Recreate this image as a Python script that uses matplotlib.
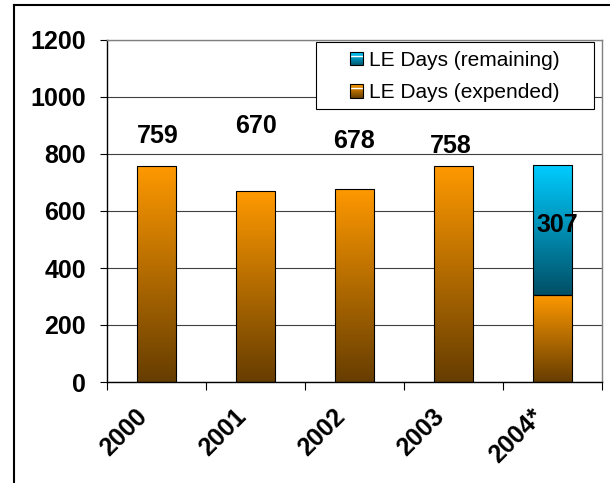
import matplotlib
matplotlib.use('Agg')
import matplotlib.pyplot as plt
import numpy as np
from matplotlib.patches import Rectangle
from matplotlib.legend_handler import HandlerBase
from matplotlib.colors import to_rgb
from matplotlib.lines import Line2D
from matplotlib.transforms import ScaledTranslation

# ---- data ----
years = ['2000', '2001', '2002', '2003', '2004*']
expended = [759, 670, 678, 758, 307]
remaining = [0, 0, 0, 0, 453]
label_text = ['759', '670', '678', '758', '307']
yticks = [0, 200, 400, 600, 800, 1000, 1200]

# label layout (baseline heights in data units, x shifts in category units)
label_base = [838, 874, 821, 804, 526]
label_dx = [0.015, 0.0, 0.0, -0.03, 0.045]

plt.rcParams['font.family'] = ['Liberation Sans', 'DejaVu Sans']

W, H = 610, 483
fig = plt.figure(figsize=(W / 100, H / 100), dpi=100)
ax = fig.add_axes([107 / W, 1 - 382 / H, 495 / W, 342 / H])

ORANGE_TOP = np.array(to_rgb('#FF9900'))
ORANGE_BOT = np.array(to_rgb('#663D00'))
CYAN_TOP = np.array(to_rgb('#00CCFF'))
CYAN_BOT = np.array(to_rgb('#004F66'))

x = np.arange(len(years))
b1 = ax.bar(x, expended, width=0.4, facecolor='none', edgecolor='black',
            lw=0.8, zorder=3)
b2 = ax.bar(x, remaining, bottom=expended, width=0.4, facecolor='none',
            edgecolor='black', lw=0.8, zorder=3)


def fill_gradient(patch, top, bottom):
    x0, y0 = patch.get_x(), patch.get_y()
    w, h = patch.get_width(), patch.get_height()
    if h <= 0:
        patch.set_visible(False)
        return
    t = np.linspace(0, 1, 256)[:, None]
    c = bottom[None, :] + (top - bottom)[None, :] * t
    img = c[:, None, :]
    im = ax.imshow(img, extent=[x0, x0 + w, y0, y0 + h], origin='lower',
                   aspect='auto', zorder=2.5, interpolation='bilinear')
    im.set_clip_path(patch)


for p in b1.patches:
    fill_gradient(p, ORANGE_TOP, ORANGE_BOT)
for p in b2.patches:
    fill_gradient(p, CYAN_TOP, CYAN_BOT)

for i, t in enumerate(label_text):
    ax.text(x[i] + label_dx[i], label_base[i], t, ha='center', va='baseline',
            fontsize=18, fontweight='bold', color='black', zorder=6)

ax.set_xlim(-0.5, len(years) - 0.5)
ax.set_ylim(0, 1200)
ax.set_yticks(yticks)
ax.set_yticklabels([str(v) for v in yticks])
ax.yaxis.grid(True, color='#404040', lw=0.8, zorder=1)
ax.set_axisbelow(True)

ax.set_xticks(x)
ax.set_xticklabels(years)
ax.set_xticks(np.arange(-0.5, len(years)), minor=True)
ax.tick_params(axis='x', which='major', length=0, pad=22, labelsize=18)
ax.tick_params(axis='x', which='minor', length=6, width=0.8, direction='out')
ax.tick_params(axis='y', length=5, width=0.8, direction='out', pad=10,
               labelsize=18)
for lab in ax.get_yticklabels():
    lab.set_fontweight('bold')
for lab in ax.get_xticklabels():
    lab.set_fontweight('bold')
    lab.set_rotation(45)
    lab.set_ha('right')
    lab.set_va('center')
    lab.set_rotation_mode('anchor')
    lab.set_transform(lab.get_transform() +
                      ScaledTranslation(-13 / 100, 0, fig.dpi_scale_trans))

for s in ['left', 'bottom']:
    ax.spines[s].set_color('black')
    ax.spines[s].set_linewidth(1.0)
for s in ['top', 'right']:
    ax.spines[s].set_color('#808080')
    ax.spines[s].set_linewidth(1.0)


class GradHandler(HandlerBase):
    def __init__(self, top, bottom):
        super().__init__()
        self.top = top
        self.bottom = bottom

    def create_artists(self, legend, orig_handle, xdescent, ydescent, width,
                       height, fontsize, trans):
        arts = []
        n = 14
        x0, y0 = -xdescent, -ydescent
        for i in range(n):
            f = (i + 0.5) / n
            col = self.bottom + (self.top - self.bottom) * f
            arts.append(Rectangle((x0, y0 + height * i / n), width,
                                  height / n, facecolor=col,
                                  edgecolor='none', transform=trans))
        yl = y0 + height * 0.7
        arts.append(Line2D([x0, x0 + width], [yl, yl], color='white', lw=1.0,
                           transform=trans))
        arts.append(Rectangle((x0, y0), width, height, facecolor='none',
                              edgecolor='black', lw=0.8, transform=trans))
        return arts


h_rem = Rectangle((0, 0), 1, 1)
h_exp = Rectangle((0, 0), 1, 1)

# legend frame
frame = Rectangle((316 / W, 1 - 109 / H), 278 / W, 67 / H,
                  transform=fig.transFigure, facecolor='white',
                  edgecolor='black', lw=0.8, zorder=5, clip_on=False)
ax.add_patch(frame)

leg = ax.legend([h_rem, h_exp], ['LE Days (remaining)', 'LE Days (expended)'],
                handler_map={h_rem: GradHandler(CYAN_TOP, CYAN_BOT),
                             h_exp: GradHandler(ORANGE_TOP, ORANGE_BOT)},
                loc='upper left', bbox_to_anchor=(350 / W, 1 - 51 / H),
                bbox_transform=fig.transFigure, frameon=False, borderpad=0,
                borderaxespad=0, handlelength=0.63, handleheight=0.63,
                handletextpad=0.29, labelspacing=0.64, fontsize=15)
leg.set_zorder(7)

# figure frame lines
fig.add_artist(Line2D([13.5 / W, 13.5 / W], [0, 1 - 4.5 / H],
                      transform=fig.transFigure, color='black', lw=1.5))
fig.add_artist(Line2D([13.5 / W, 1], [1 - 4.5 / H, 1 - 4.5 / H],
                      transform=fig.transFigure, color='black', lw=1.5))

fig.savefig('out.png', dpi=100)
